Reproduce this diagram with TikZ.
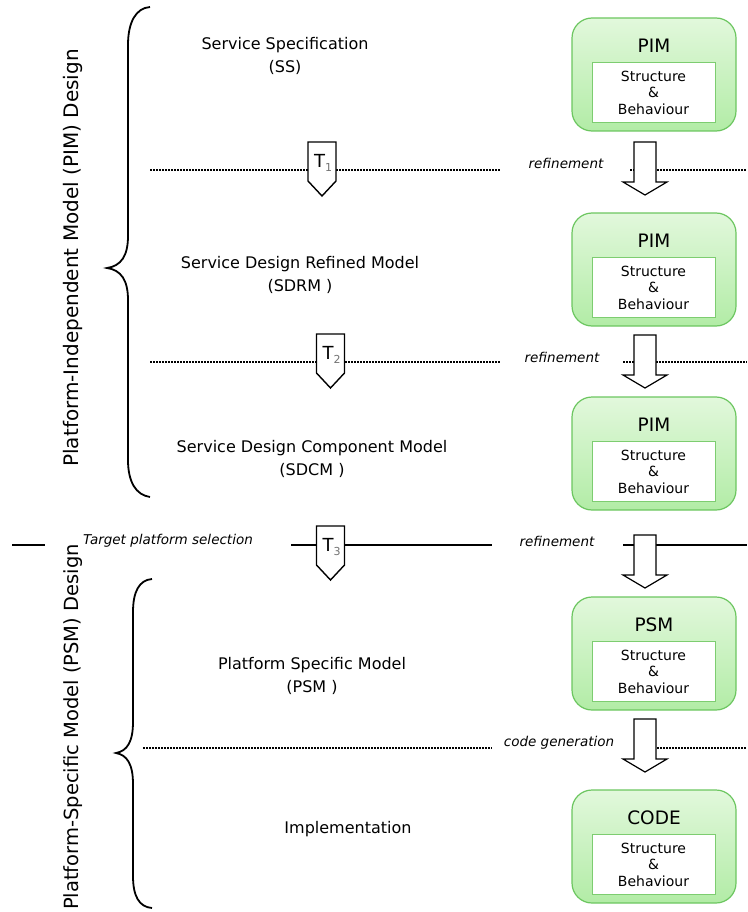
\documentclass[tikz,border=0pt]{standalone}
\usepackage{fontspec}
\setmainfont{DejaVu Sans}
\usetikzlibrary{calc}
\definecolor{boxtop}{RGB}{226,248,220}
\definecolor{boxbot}{RGB}{178,236,166}
\definecolor{boxedge}{RGB}{108,198,96}
\definecolor{inneredge}{RGB}{125,205,112}
\begin{document}
\begin{tikzpicture}[x=1pt,y=-1pt,
  lefttext/.style={font=\fontsize{16}{23}\selectfont, align=center},
  sidetext/.style={font=\fontsize{20}{24}\selectfont, rotate=90},
  steplabel/.style={font=\fontsize{13.5}{15}\selectfont\itshape},
  modelbox/.style={draw=boxedge, line width=1.2pt, rounded corners=20pt,
    top color=boxtop, bottom color=boxbot, minimum width=164pt, minimum height=113pt},
  innerbox/.style={draw=inneredge, line width=0.9pt, fill=white,
    minimum width=123pt, minimum height=60pt,
    font=\fontsize{14}{16.5}\selectfont, align=center},
  boxtitle/.style={font=\fontsize{18.5}{20}\selectfont},
  dotline/.style={line width=1.5pt, dash pattern=on 1.5pt off 1.5pt},
  solidline/.style={line width=1.4pt},
  bracestyle/.style={line width=1.8pt},
  tagshape/.style={draw, line width=1.4pt, fill=white},
  blockarrow/.style={draw, line width=1.2pt, fill=white},
  taglabel/.style={font=\fontsize{18}{20}\selectfont}
]
\useasboundingbox (0,0) rectangle (747,912);

% ---- separator lines ----
\coordinate (d1a) at (150,170); \coordinate (d1b) at (500,170);
\coordinate (d1c) at (630,170); \coordinate (d1d) at (747,170);
\draw[dotline] (d1a) -- (d1b);
\draw[dotline] (d1c) -- (d1d);

\coordinate (d2a) at (150,362); \coordinate (d2b) at (500,362);
\coordinate (d2c) at (623,362); \coordinate (d2d) at (747,362);
\draw[dotline] (d2a) -- (d2b);
\draw[dotline] (d2c) -- (d2d);

\coordinate (s3a) at (12,545); \coordinate (s3b) at (45,545);
\coordinate (s3c) at (291,545); \coordinate (s3d) at (492,545);
\coordinate (s3e) at (623,545); \coordinate (s3f) at (747,545);
\draw[solidline] (s3a) -- (s3b);
\draw[solidline] (s3c) -- (s3d);
\draw[solidline] (s3e) -- (s3f);

\coordinate (d4a) at (143,748); \coordinate (d4b) at (492,748);
\coordinate (d4c) at (657,748); \coordinate (d4d) at (747,748);
\draw[dotline] (d4a) -- (d4b);
\draw[dotline] (d4c) -- (d4d);

% ---- braces ----
\draw[bracestyle] (150,7) .. controls (136,8) and (128,22) .. (128,45)
  -- (128,236) .. controls (128,256) and (121,266) .. (107,268)
  .. controls (121,270) and (128,280) .. (128,300)
  -- (128,460) .. controls (128,482) and (136,495) .. (150,497);
\draw[bracestyle] (152,579) .. controls (139,580) and (133,592) .. (133,612)
  -- (133,722) .. controls (133,742) and (127,751) .. (116,753)
  .. controls (127,755) and (133,764) .. (133,784)
  -- (133,876) .. controls (133,896) and (139,907) .. (152,908);

% ---- side titles ----
\node[sidetext] (pimside) at (73,258) {Platform-Independent Model (PIM) Design};
\node[sidetext, font=\fontsize{19.5}{24}\selectfont] (psmside) at (73,727)
  {Platform-Specific Model (PSM) Design};

% ---- model names ----
\node[lefttext] (ss) at (285,56) {Service Specification\\(SS)};
\node[lefttext] (sdrm) at (300,275) {Service Design Refined Model\\(SDRM )};
\node[lefttext] (sdcm) at (312,459) {Service Design Component Model\\(SDCM )};
\node[lefttext] (psm) at (312,676) {Platform Specific Model\\(PSM )};
\node[lefttext] (impl) at (348,829) {Implementation};

% ---- transformation tags ----
\foreach \nm/\cx/\ty/\sub in {ta/322/142/1, tb/330.5/334/2, tc/330.5/526/3}{
  \draw[tagshape] (\cx-14,\ty) -- (\cx+14,\ty) -- (\cx+14,\ty+39)
    -- (\cx,\ty+54) -- (\cx-14,\ty+39) -- cycle;
  \node[taglabel, inner sep=0pt] (\nm) at (\cx+1,\ty+21)
    {T\raisebox{-4.5pt}{\textcolor{black!55}{\fontsize{11}{11}\selectfont\sub}}};
}

% ---- step labels ----
\node[steplabel] (ref1) at (566,163) {refinement};
\node[steplabel] (ref2) at (562,357) {refinement};
\node[steplabel] (ref3) at (557,541) {refinement};
\node[steplabel] (codegen) at (559,743) {code generation};
\node[steplabel] (target) at (168,541) {Target platform selection};

% ---- model boxes ----
\foreach \nm/\top/\ttl in {b1/18/PIM, b2/213/PIM, b3/397/PIM, b4/597/PSM, b5/790/CODE}{
  \node[modelbox] (\nm) at (654,\top+56.5) {};
  \node[boxtitle] (\nm t) at (654,\top+28) {\ttl};
  \node[innerbox] (\nm i) at (653.5,\top+74.5) {Structure\\\&\\Behaviour};
}

% ---- block arrows ----
\foreach \nm/\ty in {a1/142, a2/335, a3/535, a4/719}{
  \draw[blockarrow] (634,\ty) -- (656,\ty) -- (656,\ty+40) -- (667,\ty+40)
    -- (645,\ty+53) -- (623,\ty+40) -- (634,\ty+40) -- cycle;
  \coordinate (\nm) at (645,\ty+53);
}
\end{tikzpicture}
\end{document}
